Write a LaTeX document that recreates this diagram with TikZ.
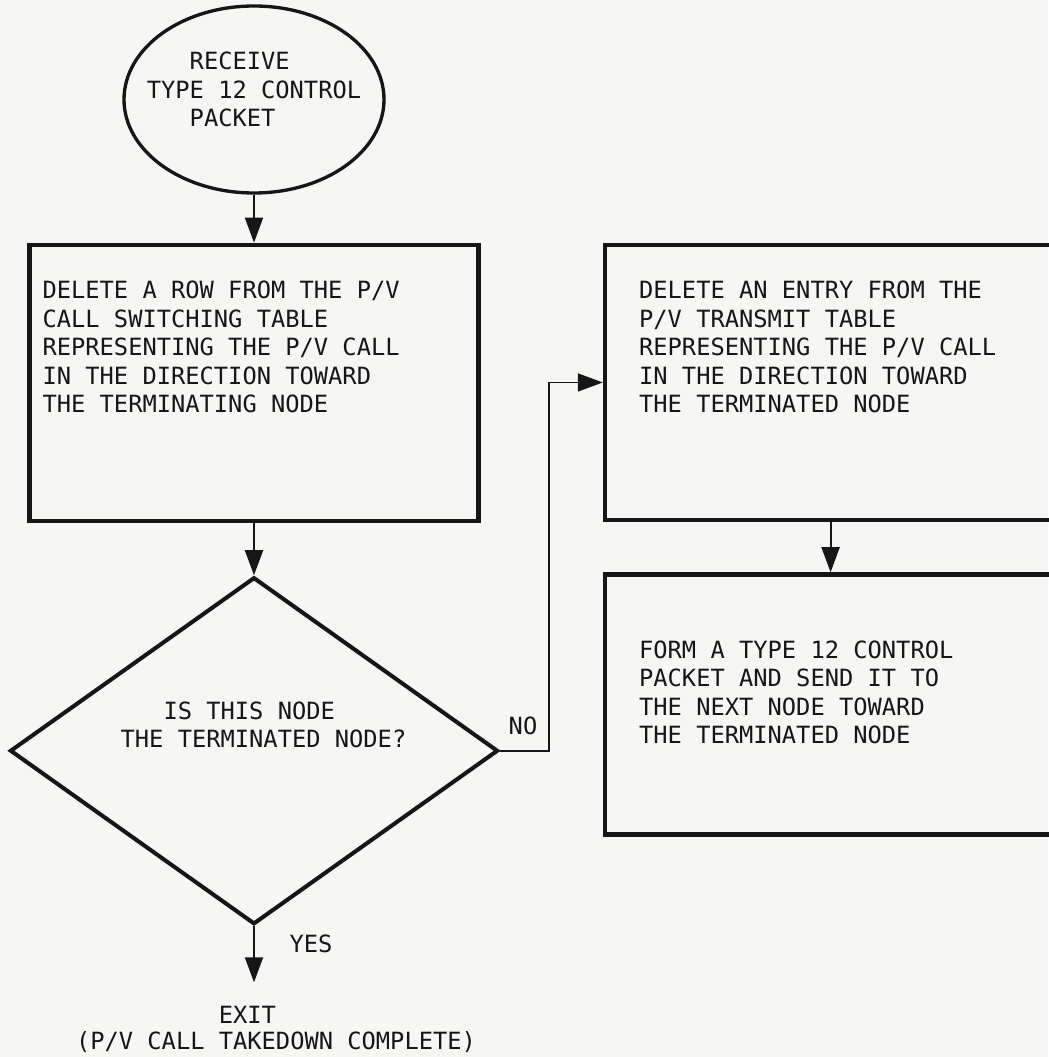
\documentclass[tikz,border=0pt]{standalone}
\usepackage{fontspec}
\newfontfamily\letterfont{DejaVu Sans Mono}
\usetikzlibrary{shapes, positioning, arrows.meta}
\definecolor{paper}{RGB}{246,246,244}
\definecolor{ink}{RGB}{22,22,22}

\begin{document}
\begin{tikzpicture}[terminal/.style={ellipse, draw=ink, line width=1.9pt, minimum width=5.2cm, minimum height=3.74cm, inner sep=0pt},
  process/.style={rectangle, draw=ink, line width=2.6pt, inner sep=0pt},
  decision/.style={diamond, draw=ink, line width=2.3pt, minimum width=9.76cm, minimum height=6.94cm, inner sep=0pt},
  lettering/.style={align=left, inner sep=0pt, text=ink, font=\letterfont\fontsize{13.5}{16.2}\selectfont},
  flow/.style={draw=ink, line width=1.1pt, -{Triangle[length=0.5cm, width=0.36cm]}}]

\fill[paper, use as bounding box] (0,0) rectangle (20.96,-21.14);

% Steps

\node[terminal] (receive) at (5.08,-1.99) {};
\node[lettering] (receivetext) at ([yshift=0.2cm]receive.center)
{\phantom{TYP}RECEIVE\\TYPE 12 CONTROL\\\phantom{TYP}PACKET};

\node[process, minimum width=8.98cm, minimum height=5.52cm, below=0.96cm of receive] (deleterow) {};
\node[lettering, anchor=north west] (deleterowtext) at ([xshift=0.3cm, yshift=-0.76cm]deleterow.north west)
{DELETE A ROW FROM THE P/V\\
CALL SWITCHING TABLE\\
REPRESENTING THE P/V CALL\\
IN THE DIRECTION TOWARD\\
THE TERMINATING NODE};

\node[decision, below=1.04cm of deleterow] (terminated) {};
\node[lettering] (terminatedtext) at ([xshift=0.19cm, yshift=0.52cm]terminated.center)
{\phantom{THE}IS THIS NODE\\THE TERMINATED NODE?};

\node[process, minimum width=9.02cm, minimum height=5.5cm, right=2.44cm of deleterow.north east, anchor=north west] (deleteentry) {};
\node[lettering, anchor=north west] (deleteentrytext) at ([xshift=0.72cm, yshift=-0.76cm]deleteentry.north west)
{DELETE AN ENTRY FROM THE\\
P/V TRANSMIT TABLE\\
REPRESENTING THE P/V CALL\\
IN THE DIRECTION TOWARD\\
THE TERMINATED NODE};

\node[process, minimum width=9.02cm, minimum height=5.2cm, below=1.0cm of deleteentry] (sendpacket) {};
\node[lettering, anchor=north west] (sendpackettext) at ([xshift=0.72cm, yshift=-1.36cm]sendpacket.north west)
{FORM A TYPE 12 CONTROL\\
PACKET AND SEND IT TO\\
THE NEXT NODE TOWARD\\
THE TERMINATED NODE};

\coordinate[below=1.12cm of terminated.south] (exitpoint);
\node[lettering, font=\letterfont\fontsize{13.5}{14.8}\selectfont] (exittext) at ([xshift=0.44cm, yshift=-2.06cm]terminated.south)
{\phantom{(P/V CALL }EXIT\\(P/V CALL TAKEDOWN COMPLETE)};

\node[lettering] (yes) at ([xshift=1.14cm, yshift=-0.36cm]terminated.south) {YES};
\node[lettering] (no) at ([xshift=0.46cm, yshift=0.5cm]terminated.east) {NO};

% Connectors

\draw[flow] (receive.south) -- (deleterow.north);
\draw[flow] (deleterow.south) -- (terminated.north);
\draw[flow] (deleteentry.south) -- (sendpacket.north);
\draw[flow] (terminated.south) -- (exitpoint);
\draw[flow, line width=0.9pt] (terminated.east) -- ++(0.98cm,0) |- (deleteentry.west);

\end{tikzpicture}
\end{document}
